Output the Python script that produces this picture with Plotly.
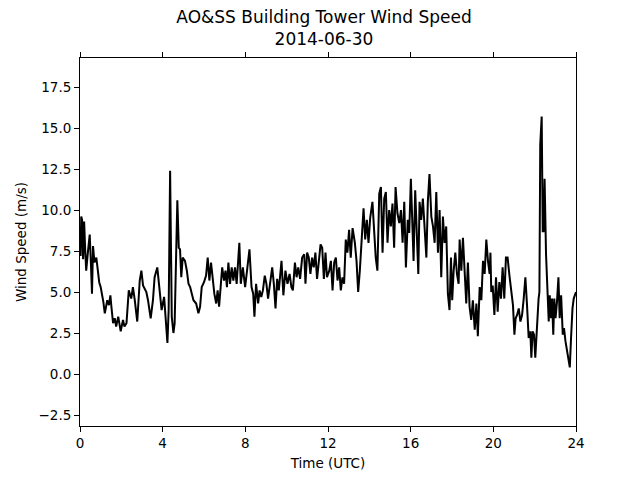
import plotly.graph_objects as go

hours = [
    0.00, 0.03, 0.06, 0.10, 0.15, 0.20, 0.25, 0.30, 0.38, 0.47,
    0.52, 0.58, 0.63, 0.70, 0.79, 0.87, 0.93, 1.00, 1.06, 1.13,
    1.20, 1.32, 1.40, 1.47, 1.52, 1.60, 1.68, 1.75, 1.85, 1.97,
    2.08, 2.15, 2.25, 2.36, 2.48, 2.56, 2.65, 2.77, 2.89, 2.97,
    3.05, 3.21, 3.29, 3.42, 3.53, 3.61, 3.74, 3.86, 3.95, 4.07,
    4.15, 4.23, 4.29, 4.36, 4.44, 4.52, 4.58, 4.65, 4.71, 4.78,
    4.84, 4.90, 4.97, 5.08, 5.17, 5.25, 5.33, 5.41, 5.49, 5.62,
    5.73, 5.81, 5.89, 6.00, 6.10, 6.18, 6.26, 6.34, 6.42, 6.50,
    6.59, 6.66, 6.73, 6.81, 6.88, 6.97, 7.04, 7.11, 7.18, 7.26,
    7.34, 7.42, 7.50, 7.58, 7.71, 7.78, 7.88, 7.99, 8.09, 8.20,
    8.30, 8.38, 8.44, 8.52, 8.62, 8.69, 8.77, 8.85, 8.94, 9.02,
    9.10, 9.20, 9.30, 9.38, 9.46, 9.54, 9.62, 9.75, 9.84, 9.94,
    10.04, 10.14, 10.23, 10.30, 10.40, 10.48, 10.56, 10.65, 10.75, 10.85,
    10.91, 10.99, 11.07, 11.15, 11.23, 11.31, 11.39, 11.47, 11.56, 11.64,
    11.72, 11.80, 11.88, 11.95, 12.06, 12.14, 12.22, 12.30, 12.38, 12.46,
    12.54, 12.62, 12.70, 12.78, 12.86, 12.94, 13.02, 13.10, 13.19, 13.30,
    13.38, 13.46, 13.54, 13.62, 13.72, 13.80, 13.88, 13.96, 14.04, 14.15,
    14.23, 14.31, 14.39, 14.48, 14.56, 14.64, 14.72, 14.80, 14.88, 14.96,
    15.04, 15.12, 15.20, 15.27, 15.36, 15.45, 15.53, 15.61, 15.69, 15.77,
    15.86, 15.93, 16.01, 16.07, 16.14, 16.22, 16.30, 16.37, 16.43, 16.51,
    16.59, 16.67, 16.76, 16.83, 16.91, 17.00, 17.08, 17.16, 17.24, 17.32,
    17.40, 17.48, 17.56, 17.64, 17.72, 17.80, 17.88, 17.95, 18.01, 18.08,
    18.16, 18.24, 18.32, 18.37, 18.45, 18.53, 18.61, 18.69, 18.77, 18.85,
    18.93, 19.01, 19.10, 19.18, 19.25, 19.34, 19.42, 19.50, 19.58, 19.66,
    19.74, 19.82, 19.86, 19.90, 19.97, 20.05, 20.13, 20.21, 20.29, 20.37,
    20.45, 20.53, 20.61, 20.69, 20.78, 20.86, 20.95, 21.02, 21.08, 21.15,
    21.23, 21.31, 21.39, 21.47, 21.55, 21.63, 21.71, 21.79, 21.84, 21.90,
    21.97, 22.03, 22.11, 22.19, 22.23, 22.27, 22.34, 22.39, 22.43, 22.48,
    22.55, 22.63, 22.68, 22.73, 22.79, 22.84, 22.90, 22.95, 23.01, 23.08,
    23.15, 23.21, 23.28, 23.36, 23.42, 23.49, 23.57, 23.64, 23.70, 23.76,
    23.83, 23.89, 24.00,
]

wind_speed = [
    9.0, 7.2, 9.6, 9.4, 7.0, 9.3, 7.6, 6.3, 7.4, 8.5,
    7.0, 4.9, 7.8, 6.8, 7.1, 6.3, 5.6, 5.3, 4.9, 4.4,
    3.7, 4.5, 4.2, 4.8, 4.1, 3.1, 3.4, 2.9, 3.5, 2.6,
    3.3, 2.9, 3.1, 5.1, 4.6, 5.3, 4.5, 3.2, 5.7, 6.3,
    5.4, 5.0, 4.5, 3.4, 4.5, 5.9, 6.5, 5.1, 3.9, 4.7,
    3.3, 1.9, 3.9, 12.4, 3.5, 2.5, 3.1, 7.0, 10.6, 7.7,
    7.6, 5.9, 7.1, 6.9, 6.3, 5.5, 5.3, 4.9, 4.5, 4.3,
    3.7, 4.1, 5.3, 5.6, 6.0, 7.1, 5.7, 6.8, 5.7, 4.9,
    4.3, 5.1, 4.1, 5.3, 6.5, 5.7, 6.3, 5.3, 6.8, 5.5,
    6.5, 5.7, 6.5, 5.5, 8.0, 5.5, 6.5, 5.3, 6.3, 7.6,
    5.3, 4.9, 3.5, 5.5, 4.3, 5.1, 4.7, 5.1, 6.0, 5.5,
    4.6, 5.7, 6.5, 5.5, 4.0, 5.8, 5.1, 6.9, 4.8, 6.3,
    5.5, 6.1, 5.3, 5.1, 6.8, 5.9, 6.5, 5.8, 7.1, 7.3,
    5.5, 7.4, 7.1, 6.1, 7.1, 6.5, 7.4, 5.8, 6.9, 7.9,
    7.7, 5.8, 7.4, 5.9, 6.3, 6.9, 5.1, 6.8, 7.1, 5.7,
    6.5, 5.1, 5.9, 5.5, 8.2, 7.4, 8.8, 7.1, 8.9, 8.0,
    6.9, 5.0, 6.3, 8.2, 10.1, 8.2, 9.4, 8.0, 9.5, 10.5,
    8.8, 7.1, 6.3, 11.0, 11.4, 7.4, 10.7, 11.1, 8.0, 10.0,
    9.0, 10.4, 7.7, 11.4, 9.8, 9.2, 10.0, 8.0, 10.5, 6.5,
    9.4, 8.6, 11.9, 9.4, 6.9, 11.2, 8.0, 6.1, 10.5, 9.4,
    10.7, 9.0, 7.1, 10.5, 12.2, 9.6, 9.0, 8.0, 11.1, 7.4,
    10.0, 5.9, 9.6, 8.0, 9.0, 4.9, 3.9, 7.1, 4.5, 6.3,
    7.4, 6.1, 5.5, 8.2, 6.3, 8.3, 5.9, 4.3, 6.8, 4.1,
    3.3, 4.5, 2.7, 4.3, 2.3, 5.3, 4.5, 6.9, 6.1, 8.2,
    6.9, 6.1, 7.4, 5.0, 5.4, 3.6, 5.9, 3.8, 5.6, 4.6,
    6.5, 4.6, 7.1, 7.1, 6.0, 5.0, 4.2, 2.4, 3.4, 3.6,
    4.0, 3.2, 3.6, 4.6, 5.9, 4.2, 2.2, 2.6, 1.0, 2.6,
    2.4, 1.0, 3.0, 4.6, 5.0, 14.0, 15.7, 8.7, 8.7, 11.9,
    7.3, 5.2, 3.2, 4.8, 3.4, 4.6, 2.4, 4.6, 3.4, 4.4,
    5.9, 3.4, 4.8, 2.4, 2.8, 2.0, 1.3, 1.0, 0.4, 2.2,
    4.0, 4.6, 5.0,
]

x_ticks = [0, 4, 8, 12, 16, 20, 24]
y_ticks = [-2.5, 0.0, 2.5, 5.0, 7.5, 10.0, 12.5, 15.0, 17.5]

title_text = "AO&SS Building Tower Wind Speed<br>2014-06-30"
x_label = "Time (UTC)"
y_label = "Wind Speed (m/s)"

font_family = "DejaVu Sans, sans-serif"

fig = go.Figure()
fig.add_trace(go.Scatter(
    x=hours, y=wind_speed, mode="lines",
    line=dict(color="black", width=2),
    showlegend=False,
))

# page body has an 8px default margin, so the figure is sized to fit
fig.update_layout(
    width=632, height=472,
    margin=dict(l=72, r=64, t=50, b=54),
    paper_bgcolor="white", plot_bgcolor="white",
    font=dict(family=font_family, color="black", size=13),
    title=dict(
        text=title_text, x=0.5, xanchor="center",
        y=0.968, yanchor="top",
        font=dict(size=17, family=font_family, color="black"),
    ),
)

fig.update_xaxes(
    range=[0, 24], tickvals=x_ticks, ticktext=[str(v) for v in x_ticks],
    showgrid=False, zeroline=False, automargin=False,
    showline=True, linecolor="black", linewidth=1, mirror="ticks",
    ticks="outside", ticklen=5, tickwidth=1, tickcolor="black",
    tickfont=dict(size=13.5),
    title=dict(text=x_label, font=dict(size=13.5), standoff=8),
)
fig.update_yaxes(
    range=[-3.17, 19.27], tickvals=y_ticks, tickformat=".1f",
    showgrid=False, zeroline=False, automargin=False,
    showline=True, linecolor="black", linewidth=1, mirror=True,
    ticks="outside", ticklen=5, tickwidth=1, tickcolor="black",
    tickfont=dict(size=13.5),
    title=dict(text=y_label, font=dict(size=13.5), standoff=8),
)

fig.write_html("out.html")
